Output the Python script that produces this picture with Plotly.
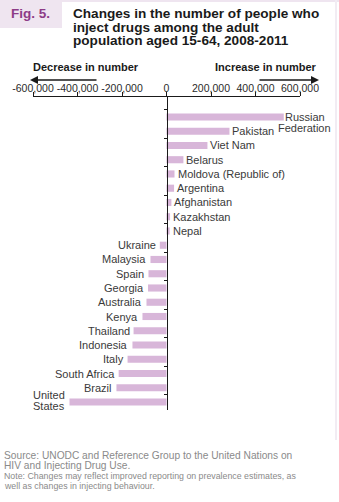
import plotly.graph_objects as go

countries = ["Russian Federation", "Pakistan", "Viet Nam", "Belarus", "Moldova (Republic of)",
             "Argentina", "Afghanistan", "Kazakhstan", "Nepal", "Ukraine", "Malaysia", "Spain",
             "Georgia", "Australia", "Kenya", "Thailand", "Indonesia", "Italy", "South Africa",
             "Brazil", "United States"]
changes = [527000, 283000, 184000, 76000, 36000, 34000, 22000, 16000, 14000, -30000, -72000,
           -81000, -83000, -90000, -108000, -148000, -153000, -175000, -215000, -225000, -436000]
tick_vals = [-600000, -400000, -200000, 0, 200000, 400000, 600000]
tick_text = ["-600,000", "-400,000", "-200,000", "0", "200,000", "400,000", "600,000"]

W, H = 339, 502
L, R, T, B = 33, 39, 97, 92
PW, PH = W - L - R, H - T - B

def px(x):
    return (x - L) / PW

def py(y):
    return 1 - (y - T) / PH

LABEL_FONT = dict(family="Liberation Sans, Arial, sans-serif", size=11, color="#3a3a3a")
BAR_COLOR = "#d8b6d9"

fig = go.Figure(go.Bar(
    x=changes, y=countries, orientation="h",
    marker=dict(color=BAR_COLOR, line=dict(width=0)),
    hoverinfo="skip",
))

annotations = []
# bar labels
for c, v in zip(countries, changes):
    if c == "Russian Federation":
        lines = ["Russian", "Federation"]
        for k, ln in enumerate(lines):
            annotations.append(dict(x=v, y=c, xref="x", yref="y", text=ln, showarrow=False,
                                    xanchor="center", yanchor="middle",
                                    xshift=21, yshift=-11 * k, font=LABEL_FONT))
    elif c == "United States":
        lines = ["United", "States"]
        for k, ln in enumerate(lines):
            annotations.append(dict(x=v, y=c, xref="x", yref="y", text=ln, showarrow=False,
                                    xanchor="left", yanchor="middle",
                                    xshift=-38, yshift=7 - 11 * k, font=LABEL_FONT))
    elif v > 0:
        annotations.append(dict(x=v, y=c, xref="x", yref="y", text=c, showarrow=False,
                                xanchor="left", yanchor="middle", xshift=1, font=LABEL_FONT))
    else:
        annotations.append(dict(x=v, y=c, xref="x", yref="y", text=c, showarrow=False,
                                xanchor="right", yanchor="middle", xshift=-2, font=LABEL_FONT))

# Title block
annotations.append(dict(x=px(9), y=py(13), xref="paper", yref="paper", text="<b>Fig. 5.</b>",
                        showarrow=False, xanchor="left", yanchor="middle",
                        font=dict(family="Liberation Sans, Arial", size=13.5, color="#8d3b87")))
title_lines = ["Changes in the number of people who", "inject drugs among the adult",
               "population aged 15-64, 2008-2011"]
for k, ln in enumerate(title_lines):
    annotations.append(dict(x=px(71), y=py(13 + 14 * k), xref="paper", yref="paper",
                            text="<b>" + ln + "</b>", showarrow=False,
                            xanchor="left", yanchor="middle",
                            font=dict(family="Liberation Sans, Arial", size=13.6, color="#1a1a1a")))

# Direction headers
HDR_FONT = dict(family="Liberation Sans, Arial", size=11, color="#1a1a1a")
annotations.append(dict(x=px(31), y=py(67), xref="paper", yref="paper",
                        text="<b>Decrease in number</b>", showarrow=False,
                        xanchor="left", yanchor="middle", font=HDR_FONT))
annotations.append(dict(x=px(319), y=py(67), xref="paper", yref="paper",
                        text="<b>Increase in number</b>", showarrow=False,
                        xanchor="right", yanchor="middle", font=HDR_FONT))
# arrows
annotations.append(dict(x=px(30), y=py(80), xref="paper", yref="paper", text="",
                        showarrow=True, ax=68, ay=0, arrowhead=2, arrowsize=1,
                        arrowwidth=1.6, arrowcolor="#1a1a1a"))
annotations.append(dict(x=px(319), y=py(80), xref="paper", yref="paper", text="",
                        showarrow=True, ax=-61, ay=0, arrowhead=2, arrowsize=1,
                        arrowwidth=1.6, arrowcolor="#1a1a1a"))

# Footnotes
SRC_FONT = dict(family="Liberation Sans, Arial", size=10.2, color="#8a8a8a")
NOTE_FONT = dict(family="Liberation Sans, Arial", size=8.8, color="#8a8a8a")
src = ["Source: UNODC and Reference Group to the United Nations on",
       "HIV and Injecting Drug Use."]
note = ["Note: Changes may reflect improved reporting on prevalence estimates, as",
        "well as changes in injecting behaviour."]
for k, ln in enumerate(src):
    annotations.append(dict(x=px(2), y=py(455 + 10.5 * k), xref="paper", yref="paper", text=ln,
                            showarrow=False, xanchor="left", yanchor="middle", font=SRC_FONT))
for k, ln in enumerate(note):
    annotations.append(dict(x=px(2), y=py(476 + 9.5 * k), xref="paper", yref="paper", text=ln,
                            showarrow=False, xanchor="left", yanchor="middle", font=NOTE_FONT))

shapes = [
    dict(type="rect", xref="paper", yref="paper", x0=px(0), x1=px(62), y0=py(28), y1=py(0),
         fillcolor="#efe5f0", line=dict(width=0), layer="below"),
    dict(type="rect", xref="paper", yref="paper", x0=px(0), x1=px(339), y0=py(2), y1=py(0),
         fillcolor="#efe5f0", line=dict(width=0), layer="below"),
    dict(type="rect", xref="paper", yref="paper", x0=px(335), x1=px(337), y0=py(440), y1=py(0),
         fillcolor="#f2ecf3", line=dict(width=0), layer="below"),
]

fig.update_layout(
    width=W, height=H,
    margin=dict(l=L, r=R, t=T, b=B, pad=0),
    paper_bgcolor="white", plot_bgcolor="white",
    showlegend=False,
    bargap=0.5,
    annotations=annotations,
    shapes=shapes,
    xaxis=dict(side="top", range=[-600000, 600000], tickvals=tick_vals, ticktext=tick_text,
               tickangle=0, ticklabelstandoff=-4,
               showgrid=False, zeroline=False, showline=True, linecolor="#1a1a1a", linewidth=1,
               ticks="outside", ticklen=4, tickcolor="#1a1a1a", tickwidth=1,
               tickfont=dict(family="Liberation Sans, Arial", size=10.5, color="#2a2a2a"),
               fixedrange=True),
    yaxis=dict(type="category", categoryorder="array", categoryarray=countries,
               range=[20.56, -1.40], anchor="free", position=0.5,
               showgrid=False, zeroline=False, showline=True, linecolor="#1a1a1a", linewidth=1,
               ticks="outside", tickson="boundaries", ticklen=3, tickcolor="#1a1a1a",
               showticklabels=False, fixedrange=True),
)

fig.write_html("out.html")
